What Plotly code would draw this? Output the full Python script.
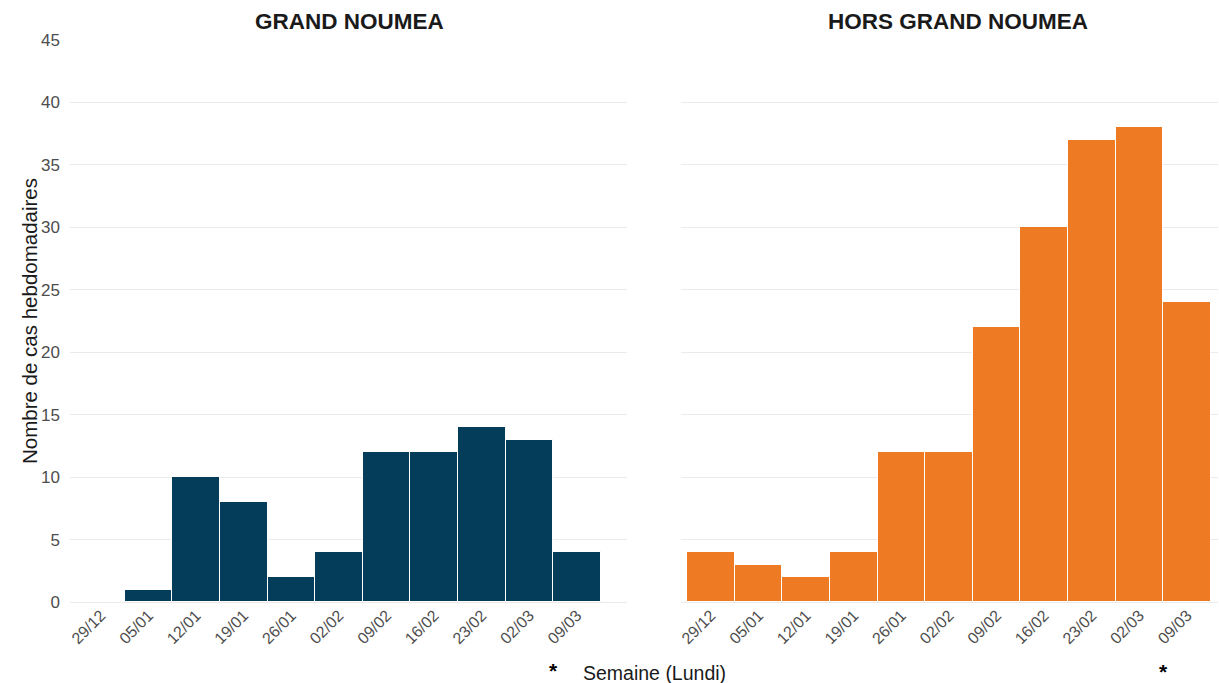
import plotly.graph_objects as go

weeks = ["29/12", "05/01", "12/01", "19/01", "26/01", "02/02", "09/02", "16/02", "23/02", "02/03", "09/03"]
grand_noumea = [None, 1, 10, 8, 2, 4, 12, 12, 14, 13, 4]
hors_grand_noumea = [4, 3, 2, 4, 12, 12, 22, 30, 37, 38, 24]
y_ticks = [0, 5, 10, 15, 20, 25, 30, 35, 40, 45]

NAVY = "#033d59"
ORANGE = "#ef7a24"
W, H = 1219, 683
ML, MR, MT, MB = 70, 1, 40, 81
pw = W - ML - MR
ph = H - MT - MB

def px_x(p):
    return (p - ML) / pw

def px_y(p):
    return (H - MB - p) / ph

fig = go.Figure()
fig.add_trace(go.Bar(x=weeks, y=grand_noumea, marker=dict(color=NAVY, line=dict(color="white", width=1)),
                     width=1.0, xaxis="x", yaxis="y", showlegend=False))
fig.add_trace(go.Bar(x=weeks, y=hors_grand_noumea, marker=dict(color=ORANGE, line=dict(color="white", width=1)),
                     width=1.0, xaxis="x2", yaxis="y2", showlegend=False))

FONT = "Liberation Sans, Arial"
xtickfont = dict(family=FONT, size=16, color="#4d4d4d")
ytickfont = dict(family=FONT, size=17, color="#4d4d4d")
xcommon = dict(type="category", categoryorder="array", categoryarray=weeks, tickangle=-45,
               tickfont=xtickfont, showgrid=False, zeroline=False, showline=False, ticks="")
ycommon = dict(range=[0, 45], tickvals=y_ticks, showgrid=True, gridcolor="#ebebeb", gridwidth=1,
               zeroline=True, zerolinecolor="#ebebeb", zerolinewidth=1, showline=False, ticks="",
               tickfont=ytickfont)

fig.update_layout(
    width=W, height=H,
    margin=dict(l=ML, r=MR, t=MT, b=MB),
    paper_bgcolor="white", plot_bgcolor="white",
    bargap=0,
    xaxis=dict(domain=[0, px_x(627)], range=[-0.65, 11.05], **xcommon),
    xaxis2=dict(domain=[px_x(681), 1], range=[-0.63, 10.65], anchor="y2", **xcommon),
    yaxis=dict(domain=[0, 1], anchor="x", ticklabelstandoff=9, **ycommon),
    yaxis2=dict(domain=[0, 1], anchor="x2", showticklabels=False, **ycommon),
)

title_font = dict(family=FONT, size=22.5, color="#1a1a1a")
ann = [
    dict(text="<b>GRAND NOUMEA</b>", x=px_x(349), y=px_y(22), font=title_font),
    dict(text="<b>HORS GRAND NOUMEA</b>", x=px_x(958), y=px_y(22), font=title_font),
    dict(text="Semaine (Lundi)", x=px_x(654), y=px_y(673),
         font=dict(family=FONT, size=19.5, color="#1a1a1a")),
    dict(text="Nombre de cas hebdomadaires", x=px_x(29), y=px_y(321), textangle=-90,
         font=dict(family=FONT, size=20.5, color="#1a1a1a")),
    dict(text="<b>*</b>", x=px_x(553), y=px_y(670),
         font=dict(family=FONT, size=21, color="black")),
    dict(text="<b>*</b>", x=px_x(1163), y=px_y(671),
         font=dict(family=FONT, size=21, color="black")),
]
for a in ann:
    a.update(xref="paper", yref="paper", showarrow=False, xanchor="center", yanchor="middle")
fig.update_layout(annotations=ann)

fig.write_html("out.html", config={"displayModeBar": False},
               post_script="document.body.style.margin='0';document.body.style.overflow='hidden';")
